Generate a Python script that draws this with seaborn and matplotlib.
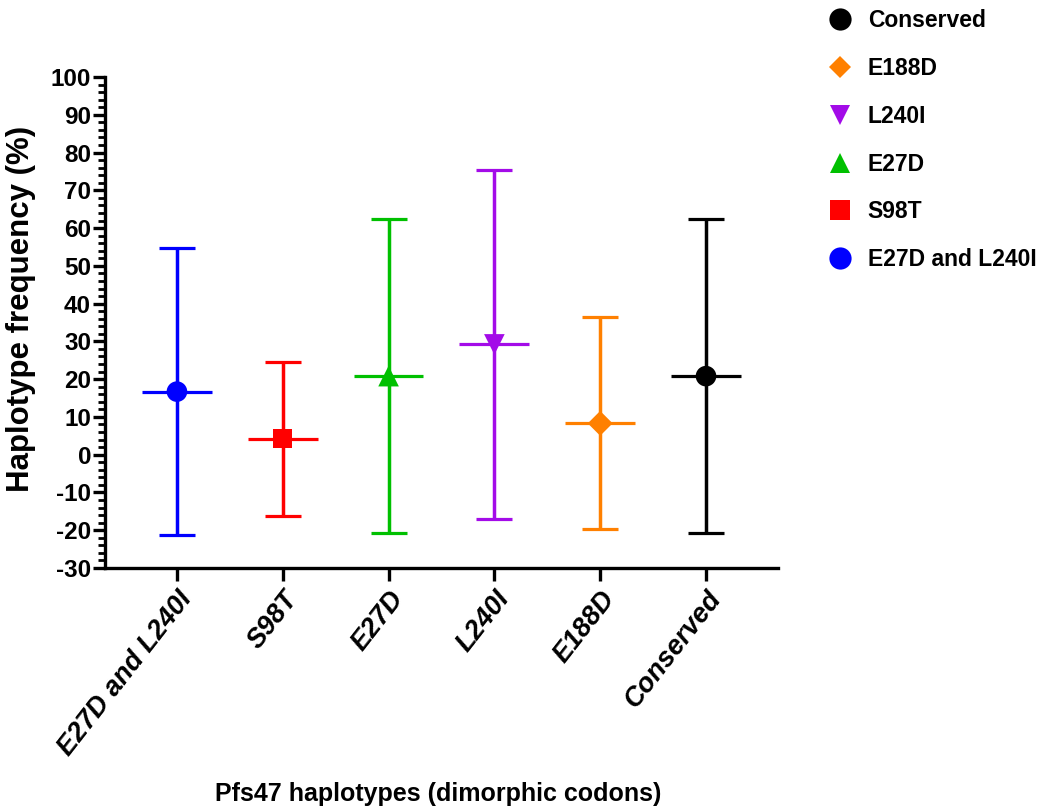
import numpy as np
import pandas as pd
import seaborn as sns
import matplotlib.pyplot as plt
from matplotlib.lines import Line2D
from matplotlib.ticker import MultipleLocator

# haplotype frequencies (mean) and spread
haplotypes = ['E27D and L240I', 'S98T', 'E27D', 'L240I', 'E188D', 'Conserved']
freq_mean = [16.7, 4.2, 20.8, 29.2, 8.3, 20.8]
freq_err = [38.0, 20.4, 41.5, 46.3, 28.1, 41.5]

colors = ['#0000FF', '#FF0000', '#00C000', '#A30BE8', '#FF8000', '#000000']
markers = ['o', 's', '^', 'v', 'D', 'o']
marker_sizes = [220, 190, 220, 220, 160, 220]

df = pd.DataFrame({'Haplotype': haplotypes, 'Mean': freq_mean, 'Err': freq_err})

sns.set_style('ticks')
plt.rcParams['font.family'] = ['Liberation Sans', 'DejaVu Sans']
plt.rcParams['font.weight'] = 'bold'
plt.rcParams['axes.unicode_minus'] = False
plt.rcParams['text.color'] = 'black'
plt.rcParams['axes.labelcolor'] = 'black'
plt.rcParams['axes.edgecolor'] = 'black'
plt.rcParams['xtick.color'] = 'black'
plt.rcParams['ytick.color'] = 'black'

fig = plt.figure(figsize=(10.52, 8.09), dpi=100)
ax = fig.add_axes([0.0998, 0.2979, 0.6397, 0.6069])

pos = np.arange(len(haplotypes))
for i in pos:
    ax.errorbar(i, freq_mean[i], yerr=freq_err[i], color=colors[i], lw=2.5,
                capsize=13, capthick=2.3, zorder=2)
    ax.hlines(freq_mean[i], i - 0.33, i + 0.33, color=colors[i], lw=2.3, zorder=2)

pal = dict(zip(haplotypes, colors))
mk = dict(zip(haplotypes, markers))
sns.scatterplot(data=df, x='Haplotype', y='Mean', hue='Haplotype', style='Haplotype',
                palette=pal, markers=mk, size='Haplotype',
                sizes=dict(zip(haplotypes, marker_sizes)),
                edgecolor='none', legend=False, zorder=3, ax=ax)

ax.set_xlim(-0.68, 5.68)
ax.set_ylim(-30, 100)
ax.yaxis.set_major_locator(MultipleLocator(10))
ax.yaxis.set_minor_locator(MultipleLocator(2))
sns.despine(ax=ax)
for s in ['left', 'bottom']:
    ax.spines[s].set_linewidth(2.4)
ax.tick_params(axis='y', which='major', length=9, width=2.4, labelsize=17.5, pad=1)
ax.tick_params(axis='y', which='minor', length=5, width=2.0)
ax.tick_params(axis='x', which='major', length=9, width=2.4, pad=4)

ax.set_xticks(pos)
ax.set_xticklabels(haplotypes, rotation=52, ha='right', va='top',
                   rotation_mode='anchor', fontsize=19.5, fontstyle='italic',
                   fontweight='bold')
for lab in ax.get_yticklabels():
    lab.set_fontweight('bold')

ax.set_xlabel('Pfs47 haplotypes (dimorphic codons)', fontsize=18, fontweight='bold')
ax.xaxis.set_label_coords(0.495, -0.436)
ax.set_ylabel('Haplotype frequency (%)', fontsize=22.5, fontweight='bold')
ax.yaxis.set_label_coords(-0.102, 0.527)

# legend, listed from last to first as in the original
handles = []
for h, c, m in zip(haplotypes[::-1], colors[::-1], markers[::-1]):
    ms = 16 if m in ('o',) else 14
    if m == 'D':
        ms = 11
    handles.append(Line2D([], [], linestyle='none', marker=m, color=c,
                          markersize=ms, markeredgewidth=0))
fig.legend(handles, haplotypes[::-1], loc='upper left',
           bbox_to_anchor=(0.766, 1.014), frameon=False, fontsize=16.5,
           labelspacing=1.08, handletextpad=0.6, handlelength=1.2)

fig.savefig('out.png', dpi=100)
